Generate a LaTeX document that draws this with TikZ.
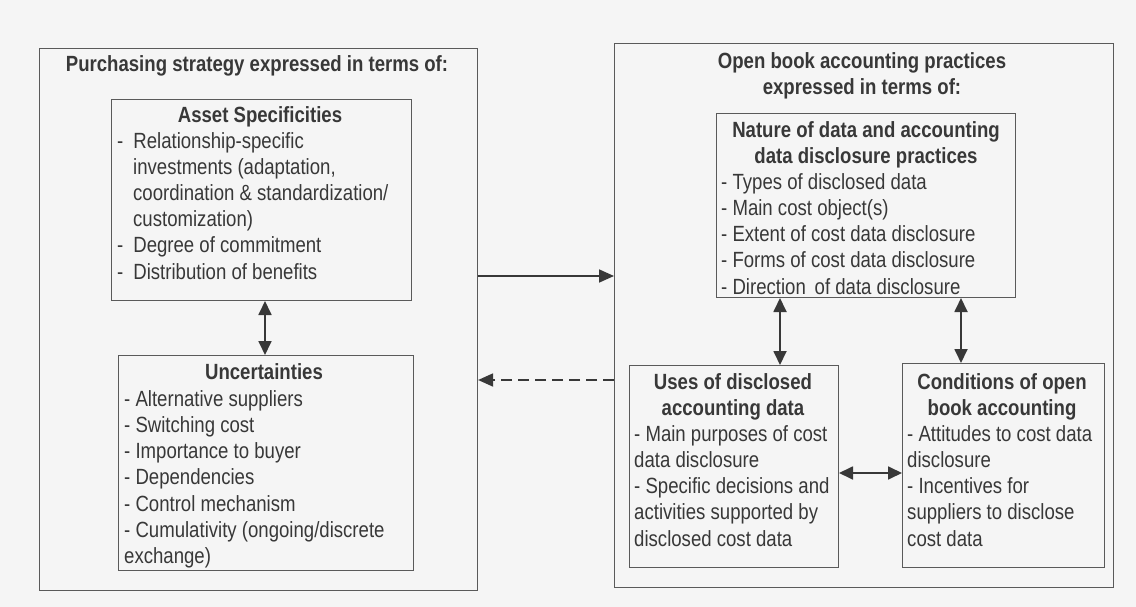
\documentclass[tikz,border=0pt]{standalone}
\usepackage{fontspec}
\setmainfont{Liberation Sans}[FakeStretch=0.845]
\usetikzlibrary{arrows.meta,calc}
\definecolor{ink}{HTML}{383838}
\definecolor{paper}{HTML}{F5F5F5}
\definecolor{frame}{HTML}{5A5A5A}
\definecolor{arrowc}{HTML}{383838}

\begin{document}
\begin{tikzpicture}[x=1pt,y=-1pt,
  outerbox/.style={draw=frame, line width=1.1pt, anchor=north west, inner sep=0pt},
  innerbox/.style={draw=frame, line width=1pt, anchor=north west, inner sep=0pt},
  basefont/.style={text=ink, font=\fontsize{22}{26.2}\selectfont, inner sep=0pt},
  heading/.style={basefont, anchor=north, align=center, font=\fontsize{22}{26.2}\selectfont\bfseries},
  listing/.style={basefont, anchor=north west, align=left},
  tip/.style={arrows={-Triangle[length=15pt,width=13pt]}},
  twotip/.style={arrows={Triangle[length=14pt,width=13pt]-Triangle[length=14pt,width=13pt]}},
  link/.style={draw=arrowc, line width=1.8pt},
  dashlink/.style={draw=arrowc, line width=1.8pt, dash pattern=on 11pt off 6pt}
]
% page
\fill[paper] (0,0) rectangle (1136,607);
\useasboundingbox (0,0) rectangle (1136,607);

% ---- purchasing strategy side ----
\node[outerbox, minimum width=438pt, minimum height=542pt] (ps) at (39,48) {};
\node[heading] (pstitle) at (257,71-18.34) {\strut Purchasing strategy expressed in terms of:};

\node[innerbox, minimum width=300pt, minimum height=201pt] (asset) at (111,99) {};
\node[heading] (assettitle) at (260,122-18.34) {\strut Asset Specificities};
\node[listing] (assetlist) at (117,148-18.34) {\strut-\hspace{10pt}Relationship-specific\\
  \hspace{16pt}investments (adaptation,\\
  \hspace{16pt}coordination \& standardization/\\
  \hspace{16pt}customization)\\
  -\hspace{10pt}Degree of commitment\\
  -\hspace{10pt}Distribution of benefits};

\node[innerbox, minimum width=295pt, minimum height=215pt] (unc) at (118,355) {};
\node[heading] (unctitle) at (264,379-18.34) {\strut Uncertainties};
\node[listing] (unclist) at (124,406-18.34) {\strut- Alternative suppliers\\
  - Switching cost\\
  - Importance to buyer\\
  - Dependencies\\
  - Control mechanism\\
  - Cumulativity (ongoing/discrete\\
  exchange)};

% ---- open book accounting side ----
\node[outerbox, minimum width=499pt, minimum height=544pt] (oba) at (614,43) {};
\node[heading] (obatitle) at (862,68-18.34) {\strut Open book accounting practices\\ expressed in terms of:};

\node[innerbox, minimum width=299pt, minimum height=184pt] (nature) at (716,113) {};
\node[heading] (naturetitle) at (866,137-18.34) {\strut Nature of data and accounting\\ data disclosure practices};
\node[listing] (naturelist) at (721,189-18.34) {\strut- Types of disclosed data\\
  - Main cost object(s)\\
  - Extent of cost data disclosure\\
  - Forms of cost data disclosure\\
  - Direction\,\ of data disclosure};

\node[innerbox, minimum width=209pt, minimum height=202pt] (uses) at (629,365) {};
\node[heading] (usestitle) at (733,389-18.34) {\strut Uses of disclosed\\ accounting data};
\node[listing] (useslist) at (634,441-18.34) {\strut- Main purposes of cost\\
  data disclosure\\
  - Specific decisions and\\
  activities supported by\\
  disclosed cost data};

\node[innerbox, minimum width=202pt, minimum height=204pt] (cond) at (902,363) {};
\node[heading] (condtitle) at (1002,389-18.34) {\strut Conditions of open\\ book accounting};
\node[listing] (condlist) at (907,441-18.34) {\strut- Attitudes to cost data\\
  disclosure\\
  - Incentives for\\
  suppliers to disclose\\
  cost data};

% ---- connectors ----
\coordinate (colA) at (265,0);
\coordinate (colU) at (780,0);
\coordinate (colC) at (961,0);
\coordinate (rowS) at (0,276);
\coordinate (rowD) at (0,380);
\coordinate (rowH) at (0,473);

\draw[link, twotip] (asset.south -| colA) -- (unc.north -| colA);
\draw[link, tip] (ps.east |- rowS) -- (oba.west |- rowS);
\draw[dashlink, tip] (oba.west |- rowD) -- (ps.east |- rowD);
\draw[link, twotip] (nature.south -| colU) -- (uses.north -| colU);
\draw[link, twotip] (nature.south -| colC) -- (cond.north -| colC);
\draw[link, twotip] (uses.east |- rowH) -- (cond.west |- rowH);
\end{tikzpicture}
\end{document}
